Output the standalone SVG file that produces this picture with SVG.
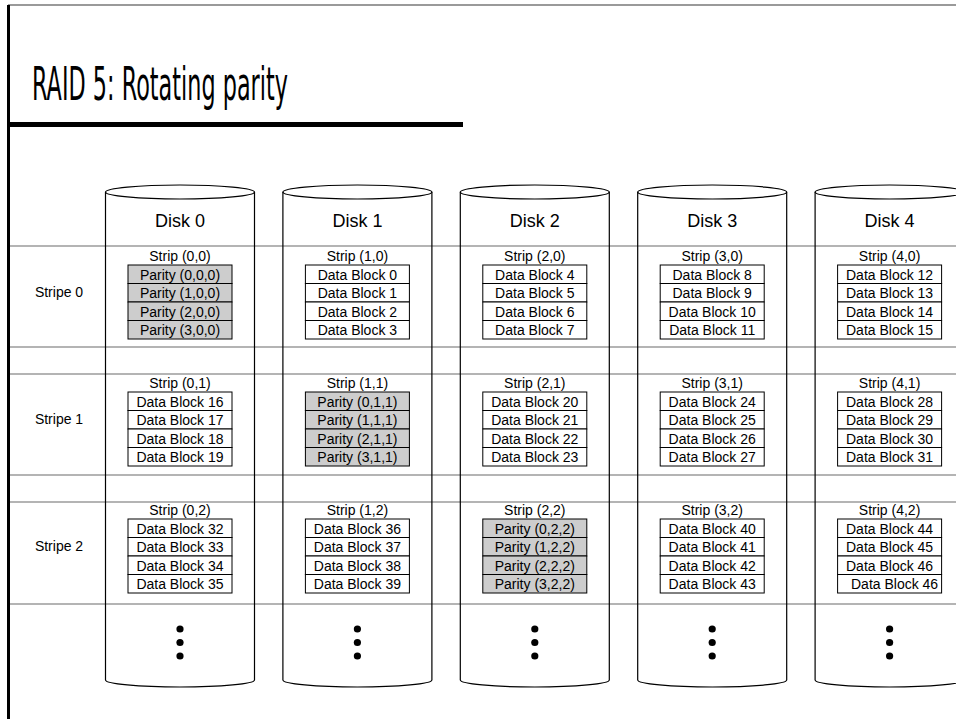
<svg xmlns="http://www.w3.org/2000/svg" width="956" height="719" viewBox="0 0 956 719">
<style>
.t{font-family:"Liberation Sans",Arial,sans-serif;fill:#000;text-anchor:middle}
.c{font-size:14px}
.d{font-size:18px}
.cell{fill:#fff;stroke:#000;stroke-width:1}
.par{fill:#cdcdcd;stroke:#000;stroke-width:1}
.grid{stroke:#b4b4b4;stroke-width:2;fill:none}
.cyl{fill:none;stroke:#000;stroke-width:1.2}
.dot{fill:#000}
</style>
<rect x="0" y="0" width="956" height="719" fill="#fff"/>
<g id="frame">
<rect x="8" y="4" width="948" height="2" fill="#9a9a9a"/>
<rect x="7" y="5" width="3" height="714" fill="#000"/>
<text x="32" y="100" font-family="'Comic Sans MS','DejaVu Sans',sans-serif" font-size="46" textLength="256" lengthAdjust="spacingAndGlyphs" fill="#000">RAID 5: Rotating parity</text>
<rect x="8" y="122" width="455" height="5" fill="#000"/>
</g>
<g id="connectors">
<path class="grid" d="M10,246H956M10,347H956M10,374H956M10,475H956M10,502H956M10,604H956"/>
</g>
<g id="stripe-labels">
<text class="t c" x="59" y="297">Stripe 0</text>
<text class="t c" x="59" y="424">Stripe 1</text>
<text class="t c" x="59" y="551">Stripe 2</text>
</g>
<g id="disk0">
<path class="cyl" d="M105.5,192V680A74.5,7 0 0 0 254.5,680V192"/>
<ellipse class="cyl" cx="180" cy="192" rx="74.5" ry="7"/>
<text class="t d" x="180" y="227">Disk 0</text>
<circle class="dot" cx="180" cy="629" r="3.6"/><circle class="dot" cx="180" cy="642.5" r="3.6"/><circle class="dot" cx="180" cy="656" r="3.6"/>
</g>
<g id="disk1">
<path class="cyl" d="M282.9,192V680A74.5,7 0 0 0 431.9,680V192"/>
<ellipse class="cyl" cx="357.4" cy="192" rx="74.5" ry="7"/>
<text class="t d" x="357.4" y="227">Disk 1</text>
<circle class="dot" cx="357.4" cy="629" r="3.6"/><circle class="dot" cx="357.4" cy="642.5" r="3.6"/><circle class="dot" cx="357.4" cy="656" r="3.6"/>
</g>
<g id="disk2">
<path class="cyl" d="M460.3,192V680A74.5,7 0 0 0 609.3,680V192"/>
<ellipse class="cyl" cx="534.8" cy="192" rx="74.5" ry="7"/>
<text class="t d" x="534.8" y="227">Disk 2</text>
<circle class="dot" cx="534.8" cy="629" r="3.6"/><circle class="dot" cx="534.8" cy="642.5" r="3.6"/><circle class="dot" cx="534.8" cy="656" r="3.6"/>
</g>
<g id="disk3">
<path class="cyl" d="M637.7,192V680A74.5,7 0 0 0 786.7,680V192"/>
<ellipse class="cyl" cx="712.2" cy="192" rx="74.5" ry="7"/>
<text class="t d" x="712.2" y="227">Disk 3</text>
<circle class="dot" cx="712.2" cy="629" r="3.6"/><circle class="dot" cx="712.2" cy="642.5" r="3.6"/><circle class="dot" cx="712.2" cy="656" r="3.6"/>
</g>
<g id="disk4">
<path class="cyl" d="M815.1,192V680A74.5,7 0 0 0 964.1,680V192"/>
<ellipse class="cyl" cx="889.6" cy="192" rx="74.5" ry="7"/>
<text class="t d" x="889.6" y="227">Disk 4</text>
<circle class="dot" cx="889.6" cy="629" r="3.6"/><circle class="dot" cx="889.6" cy="642.5" r="3.6"/><circle class="dot" cx="889.6" cy="656" r="3.6"/>
</g>
<!-- Stripe 0 -->
<g id="strip-0-0">
<text class="t c" x="180" y="261">Strip (0,0)</text>
<rect class="par" x="128" y="265" width="104" height="18.5"/><rect class="par" x="128" y="283.5" width="104" height="18.5"/><rect class="par" x="128" y="302" width="104" height="18.5"/><rect class="par" x="128" y="320.5" width="104" height="18.5"/>
<text class="t c" x="180" y="279.5">Parity (0,0,0)</text><text class="t c" x="180" y="298">Parity (1,0,0)</text><text class="t c" x="180" y="316.5">Parity (2,0,0)</text><text class="t c" x="180" y="335">Parity (3,0,0)</text>
</g>
<g id="strip-1-0">
<text class="t c" x="357.4" y="261">Strip (1,0)</text>
<rect class="cell" x="305.4" y="265" width="104" height="18.5"/><rect class="cell" x="305.4" y="283.5" width="104" height="18.5"/><rect class="cell" x="305.4" y="302" width="104" height="18.5"/><rect class="cell" x="305.4" y="320.5" width="104" height="18.5"/>
<text class="t c" x="357.4" y="279.5">Data Block 0</text><text class="t c" x="357.4" y="298">Data Block 1</text><text class="t c" x="357.4" y="316.5">Data Block 2</text><text class="t c" x="357.4" y="335">Data Block 3</text>
</g>
<g id="strip-2-0">
<text class="t c" x="534.8" y="261">Strip (2,0)</text>
<rect class="cell" x="482.8" y="265" width="104" height="18.5"/><rect class="cell" x="482.8" y="283.5" width="104" height="18.5"/><rect class="cell" x="482.8" y="302" width="104" height="18.5"/><rect class="cell" x="482.8" y="320.5" width="104" height="18.5"/>
<text class="t c" x="534.8" y="279.5">Data Block 4</text><text class="t c" x="534.8" y="298">Data Block 5</text><text class="t c" x="534.8" y="316.5">Data Block 6</text><text class="t c" x="534.8" y="335">Data Block 7</text>
</g>
<g id="strip-3-0">
<text class="t c" x="712.2" y="261">Strip (3,0)</text>
<rect class="cell" x="660.2" y="265" width="104" height="18.5"/><rect class="cell" x="660.2" y="283.5" width="104" height="18.5"/><rect class="cell" x="660.2" y="302" width="104" height="18.5"/><rect class="cell" x="660.2" y="320.5" width="104" height="18.5"/>
<text class="t c" x="712.2" y="279.5">Data Block 8</text><text class="t c" x="712.2" y="298">Data Block 9</text><text class="t c" x="712.2" y="316.5">Data Block 10</text><text class="t c" x="712.2" y="335">Data Block 11</text>
</g>
<g id="strip-4-0">
<text class="t c" x="889.6" y="261">Strip (4,0)</text>
<rect class="cell" x="837.6" y="265" width="104" height="18.5"/><rect class="cell" x="837.6" y="283.5" width="104" height="18.5"/><rect class="cell" x="837.6" y="302" width="104" height="18.5"/><rect class="cell" x="837.6" y="320.5" width="104" height="18.5"/>
<text class="t c" x="889.6" y="279.5">Data Block 12</text><text class="t c" x="889.6" y="298">Data Block 13</text><text class="t c" x="889.6" y="316.5">Data Block 14</text><text class="t c" x="889.6" y="335">Data Block 15</text>
</g>
<!-- Stripe 1 -->
<g id="strip-0-1">
<text class="t c" x="180" y="388">Strip (0,1)</text>
<rect class="cell" x="128" y="392" width="104" height="18.5"/><rect class="cell" x="128" y="410.5" width="104" height="18.5"/><rect class="cell" x="128" y="429" width="104" height="18.5"/><rect class="cell" x="128" y="447.5" width="104" height="18.5"/>
<text class="t c" x="180" y="406.5">Data Block 16</text><text class="t c" x="180" y="425">Data Block 17</text><text class="t c" x="180" y="443.5">Data Block 18</text><text class="t c" x="180" y="462">Data Block 19</text>
</g>
<g id="strip-1-1">
<text class="t c" x="357.4" y="388">Strip (1,1)</text>
<rect class="par" x="305.4" y="392" width="104" height="18.5"/><rect class="par" x="305.4" y="410.5" width="104" height="18.5"/><rect class="par" x="305.4" y="429" width="104" height="18.5"/><rect class="par" x="305.4" y="447.5" width="104" height="18.5"/>
<text class="t c" x="357.4" y="406.5">Parity (0,1,1)</text><text class="t c" x="357.4" y="425">Parity (1,1,1)</text><text class="t c" x="357.4" y="443.5">Parity (2,1,1)</text><text class="t c" x="357.4" y="462">Parity (3,1,1)</text>
</g>
<g id="strip-2-1">
<text class="t c" x="534.8" y="388">Strip (2,1)</text>
<rect class="cell" x="482.8" y="392" width="104" height="18.5"/><rect class="cell" x="482.8" y="410.5" width="104" height="18.5"/><rect class="cell" x="482.8" y="429" width="104" height="18.5"/><rect class="cell" x="482.8" y="447.5" width="104" height="18.5"/>
<text class="t c" x="534.8" y="406.5">Data Block 20</text><text class="t c" x="534.8" y="425">Data Block 21</text><text class="t c" x="534.8" y="443.5">Data Block 22</text><text class="t c" x="534.8" y="462">Data Block 23</text>
</g>
<g id="strip-3-1">
<text class="t c" x="712.2" y="388">Strip (3,1)</text>
<rect class="cell" x="660.2" y="392" width="104" height="18.5"/><rect class="cell" x="660.2" y="410.5" width="104" height="18.5"/><rect class="cell" x="660.2" y="429" width="104" height="18.5"/><rect class="cell" x="660.2" y="447.5" width="104" height="18.5"/>
<text class="t c" x="712.2" y="406.5">Data Block 24</text><text class="t c" x="712.2" y="425">Data Block 25</text><text class="t c" x="712.2" y="443.5">Data Block 26</text><text class="t c" x="712.2" y="462">Data Block 27</text>
</g>
<g id="strip-4-1">
<text class="t c" x="889.6" y="388">Strip (4,1)</text>
<rect class="cell" x="837.6" y="392" width="104" height="18.5"/><rect class="cell" x="837.6" y="410.5" width="104" height="18.5"/><rect class="cell" x="837.6" y="429" width="104" height="18.5"/><rect class="cell" x="837.6" y="447.5" width="104" height="18.5"/>
<text class="t c" x="889.6" y="406.5">Data Block 28</text><text class="t c" x="889.6" y="425">Data Block 29</text><text class="t c" x="889.6" y="443.5">Data Block 30</text><text class="t c" x="889.6" y="462">Data Block 31</text>
</g>
<!-- Stripe 2 -->
<g id="strip-0-2">
<text class="t c" x="180" y="515">Strip (0,2)</text>
<rect class="cell" x="128" y="519" width="104" height="18.5"/><rect class="cell" x="128" y="537.5" width="104" height="18.5"/><rect class="cell" x="128" y="556" width="104" height="18.5"/><rect class="cell" x="128" y="574.5" width="104" height="18.5"/>
<text class="t c" x="180" y="533.5">Data Block 32</text><text class="t c" x="180" y="552">Data Block 33</text><text class="t c" x="180" y="570.5">Data Block 34</text><text class="t c" x="180" y="589">Data Block 35</text>
</g>
<g id="strip-1-2">
<text class="t c" x="357.4" y="515">Strip (1,2)</text>
<rect class="cell" x="305.4" y="519" width="104" height="18.5"/><rect class="cell" x="305.4" y="537.5" width="104" height="18.5"/><rect class="cell" x="305.4" y="556" width="104" height="18.5"/><rect class="cell" x="305.4" y="574.5" width="104" height="18.5"/>
<text class="t c" x="357.4" y="533.5">Data Block 36</text><text class="t c" x="357.4" y="552">Data Block 37</text><text class="t c" x="357.4" y="570.5">Data Block 38</text><text class="t c" x="357.4" y="589">Data Block 39</text>
</g>
<g id="strip-2-2">
<text class="t c" x="534.8" y="515">Strip (2,2)</text>
<rect class="par" x="482.8" y="519" width="104" height="18.5"/><rect class="par" x="482.8" y="537.5" width="104" height="18.5"/><rect class="par" x="482.8" y="556" width="104" height="18.5"/><rect class="par" x="482.8" y="574.5" width="104" height="18.5"/>
<text class="t c" x="534.8" y="533.5">Parity (0,2,2)</text><text class="t c" x="534.8" y="552">Parity (1,2,2)</text><text class="t c" x="534.8" y="570.5">Parity (2,2,2)</text><text class="t c" x="534.8" y="589">Parity (3,2,2)</text>
</g>
<g id="strip-3-2">
<text class="t c" x="712.2" y="515">Strip (3,2)</text>
<rect class="cell" x="660.2" y="519" width="104" height="18.5"/><rect class="cell" x="660.2" y="537.5" width="104" height="18.5"/><rect class="cell" x="660.2" y="556" width="104" height="18.5"/><rect class="cell" x="660.2" y="574.5" width="104" height="18.5"/>
<text class="t c" x="712.2" y="533.5">Data Block 40</text><text class="t c" x="712.2" y="552">Data Block 41</text><text class="t c" x="712.2" y="570.5">Data Block 42</text><text class="t c" x="712.2" y="589">Data Block 43</text>
</g>
<g id="strip-4-2">
<text class="t c" x="889.6" y="515">Strip (4,2)</text>
<rect class="cell" x="837.6" y="519" width="104" height="18.5"/><rect class="cell" x="837.6" y="537.5" width="104" height="18.5"/><rect class="cell" x="837.6" y="556" width="104" height="18.5"/><rect class="cell" x="837.6" y="574.5" width="104" height="18.5"/>
<text class="t c" x="889.6" y="533.5">Data Block 44</text><text class="t c" x="889.6" y="552">Data Block 45</text><text class="t c" x="889.6" y="570.5">Data Block 46</text><text class="t c" x="894.6" y="589">Data Block 46</text>
</g>
</svg>
